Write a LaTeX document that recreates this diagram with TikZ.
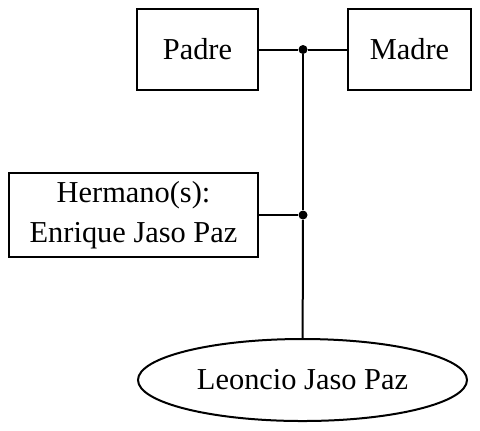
\documentclass[tikz,border=0pt]{standalone}
\usepackage{fontspec}
\setmainfont{Liberation Serif}
\usetikzlibrary{shapes.geometric,positioning}

\begin{document}
\begin{tikzpicture}[
    x=0.5pt, y=-0.5pt,
    % Stili per i nodi
    persona/.style={rectangle, draw, line width=1pt, font=\fontsize{15.2}{20}\selectfont, align=center, inner sep=0pt},
    figlio/.style={ellipse, draw, line width=1pt, font=\fontsize{15.2}{20}\selectfont, minimum width=164.5pt, minimum height=41pt, inner sep=0pt},
    giunto/.style={circle, fill, inner sep=0pt, minimum size=4.5pt},
    % Stili per le connessioni
    legame/.style={line width=1pt}
]
\useasboundingbox (0,0) rectangle (480,430);

% === GENITORI ===
\node[persona, minimum width=60.5pt, minimum height=40.5pt] (padre) at (197.5,49.5) {Padre};
\node[persona, minimum width=61.5pt, minimum height=40.5pt] (madre) at (409.5,49.5) {Madre};
\node[giunto] (g1) at (303,49.5) {};

% === FRATELLI ===
\node[persona, minimum width=124.5pt, minimum height=42pt] (hermano) at (133.5,215) {Hermano(s):\\Enrique Jaso Paz};
\node[giunto] (g2) at (303,215) {};

% === FIGLIO ===
\node[figlio] (leoncio) at (302.5,380) {Leoncio Jaso Paz};

% === CONNESSIONI ===
\draw[legame] (padre) -- (g1);
\draw[legame] (g1) -- (madre);
\draw[legame] (g1) -- (g2);
\draw[legame] (hermano) -- (g2);
\draw[legame] (g2) -- (leoncio);

\end{tikzpicture}
\end{document}
